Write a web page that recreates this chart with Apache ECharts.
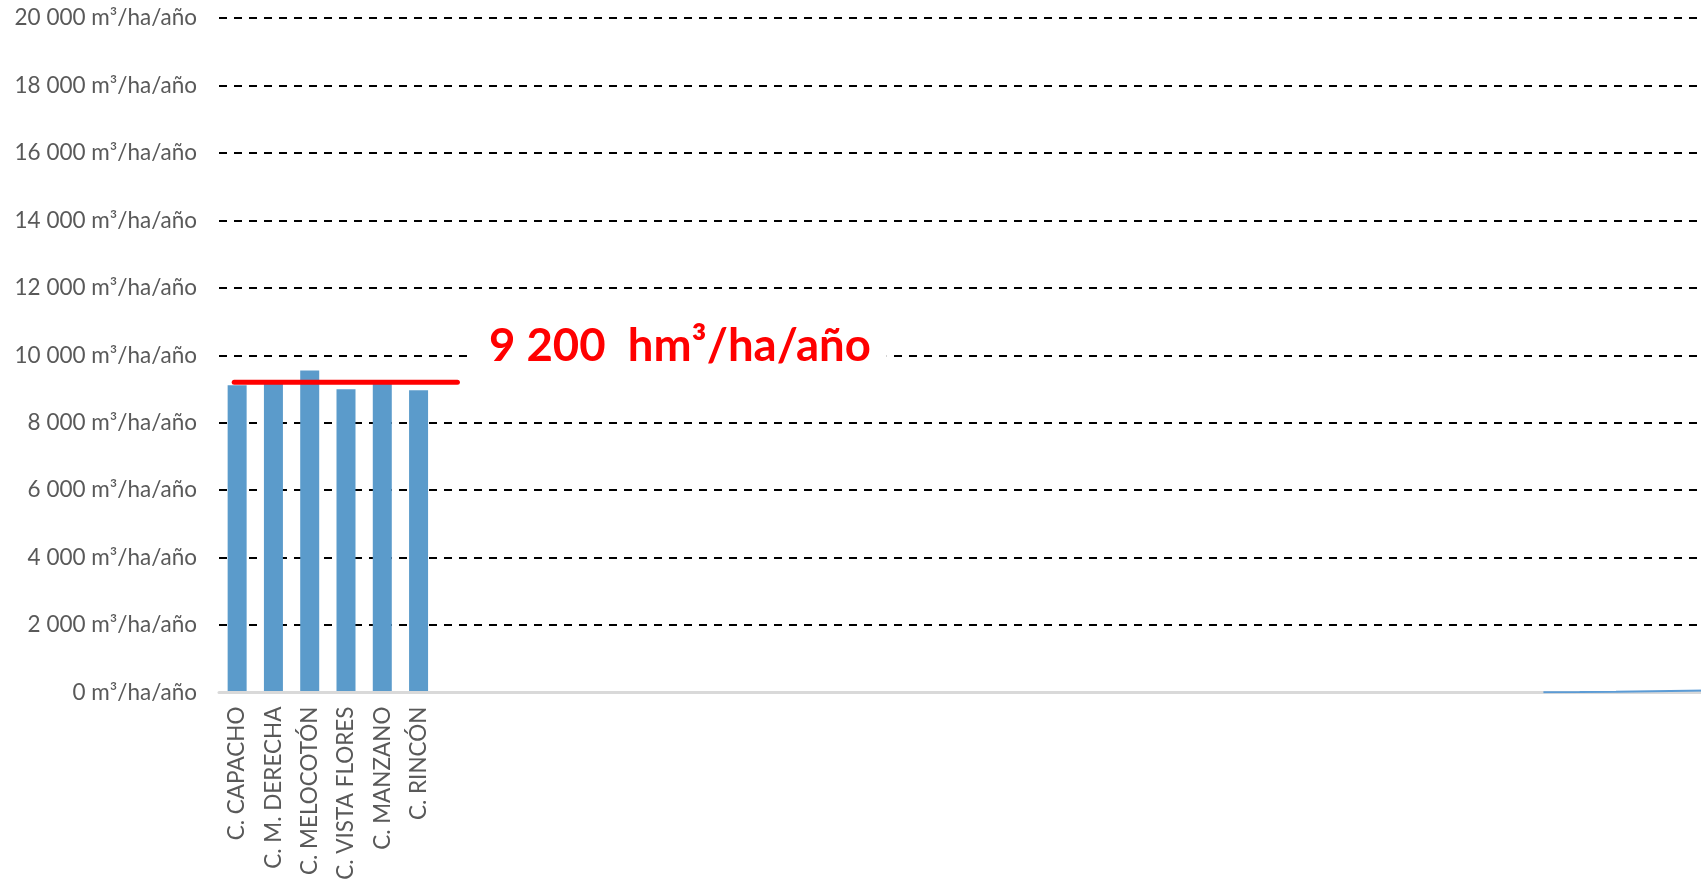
<!DOCTYPE html>
<html>
<head>
<meta charset="utf-8">
<script src="https://cdn.jsdelivr.net/npm/echarts@6/dist/echarts.min.js"></script>
<style>
html,body{margin:0;padding:0;background:#fff;overflow:hidden;width:1701px;height:884px;}
#chart{width:1743px;height:884px;}
</style>
</head>
<body>
<div id="chart"></div>
<script>
// ---- data ----
const namedCategories = ['C. CAPACHO','C. M. DERECHA','C. MELOCOTÓN','C. VISTA FLORES','C. MANZANO','C. RINCÓN'];
const totalCategories = 42;
const barValues = [9110, 9160, 9550, 8990, 9170, 8960];
const tailLineValues = [5, 12, 22, 36, 52, 70]; // small series visible at far right
const referenceValue = 9200;
const referenceSpan = [0.42, 6.57]; // in category units
const referenceLabel = '9 200  hm³/ha/año';
const yTicks = {min: 0, max: 20000, interval: 2000};

// ---- build ----
const categories = [];
for (let i = 0; i < totalCategories; i++) categories.push(i < namedCategories.length ? namedCategories[i] : '');
const bars = categories.map((c, i) => i < barValues.length ? barValues[i] : null);
const tail = categories.map((c, i) => {
  const k = i - (totalCategories - tailLineValues.length);
  return k >= 0 ? tailLineValues[k] : null;
});

function fmt(v){
  const s = String(Math.round(v)).replace(/\B(?=(\d{3})+(?!\d))/g, ' ');
  return s + ' m³/ha/año';
}

const chart = echarts.init(document.getElementById('chart'));
chart.setOption({
  animation: false,
  backgroundColor: '#fff',
  textStyle: {fontFamily: 'Lato'},
  grid: {left: 219, top: 18, right: 0, bottom: 191.5, containLabel: false},
  xAxis: [{
    type: 'category',
    data: categories,
    axisLine: {show: true, lineStyle: {color: '#d9d9d9', width: 3}},
    axisTick: {show: false},
    axisLabel: {rotate: 90, interval: 0, color: '#595959', fontSize: 22.5, fontFamily: 'Lato', margin: 14},
    splitLine: {show: false},
    z: 5
  }, {
    type: 'value', min: 0, max: totalCategories, show: false
  }],
  yAxis: {
    type: 'value',
    min: yTicks.min, max: yTicks.max, interval: yTicks.interval,
    axisLine: {show: false},
    axisTick: {show: false},
    axisLabel: {color: '#595959', fontSize: 22.5, fontFamily: 'Lato', margin: 22, formatter: fmt},
    splitLine: {show: true, showMinLine: false, lineStyle: {color: '#000', width: 2, type: [8, 7]}}
  },
  series: [{
    type: 'bar',
    data: bars,
    barWidth: 19,
    itemStyle: {color: '#5B9BCB'},
    z: 2
  }, {
    type: 'line',
    data: tail,
    showSymbol: false,
    symbol: 'none',
    lineStyle: {color: '#5B9BD5', width: 2},
    z: 6
  }, {
    type: 'line',
    xAxisIndex: 1,
    data: [[referenceSpan[0], referenceValue], [referenceSpan[1], referenceValue]],
    symbol: 'none',
    lineStyle: {color: '#FF0000', width: 5, cap: 'round'},
    z: 4
  }],
  graphic: [{
    type: 'text',
    left: 468,
    top: 319,
    z: 10,
    style: {
      text: referenceLabel,
      fill: '#FF0000',
      font: 'bold 45.5px Lato',
      backgroundColor: '#fff',
      padding: [4, 16, 4, 21]
    }
  }]
});
</script>
</body>
</html>
